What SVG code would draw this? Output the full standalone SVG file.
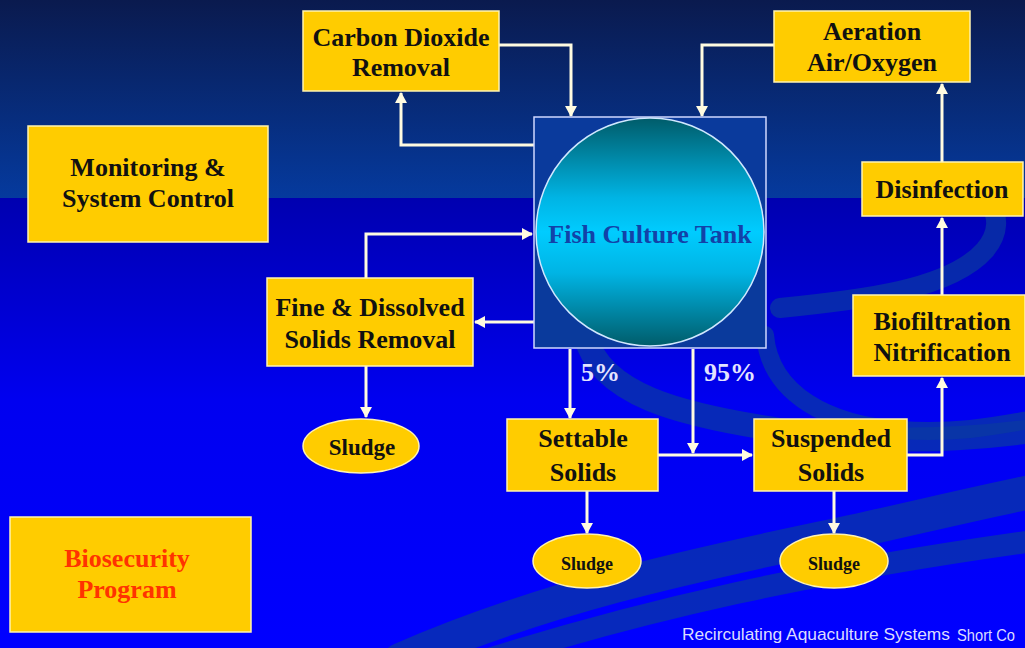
<svg xmlns="http://www.w3.org/2000/svg" width="1025" height="648" viewBox="0 0 1025 648">
<defs>
<linearGradient id="bgTop" x1="0" y1="0" x2="0" y2="1">
<stop offset="0" stop-color="#0a1a4e"/>
<stop offset="1" stop-color="#053a9e"/>
</linearGradient>
<linearGradient id="bgBot" x1="0" y1="0" x2="0" y2="1">
<stop offset="0" stop-color="#0000b0"/>
<stop offset="0.45" stop-color="#0000f0"/>
<stop offset="1" stop-color="#0000ff"/>
</linearGradient>
<linearGradient id="tankGrad" x1="0" y1="0" x2="0" y2="1">
<stop offset="0" stop-color="#005c6a"/>
<stop offset="0.35" stop-color="#00b4e4"/>
<stop offset="0.5" stop-color="#00ccff"/>
<stop offset="0.68" stop-color="#00b4e4"/>
<stop offset="1" stop-color="#005c6a"/>
</linearGradient>
<marker id="arr" markerUnits="userSpaceOnUse" markerWidth="12" markerHeight="12" refX="10" refY="6" orient="auto">
<path d="M0,0 L11,6 L0,12 z" fill="#fffbe0"/>
</marker>
<style>
.box{fill:#ffcc00;stroke:#fff3b0;stroke-width:1.5}
.lbl{font-family:"Liberation Serif","Times New Roman",serif;font-weight:bold;font-size:26px;fill:#111;text-anchor:middle}
.sm{font-size:18px}
.wave{fill:none;stroke:#0a3aa0;stroke-opacity:0.7;stroke-linecap:round}
.conn{fill:none;stroke:#fffbe0;stroke-width:3;marker-end:url(#arr)}
.pct{font-family:"Liberation Serif","Times New Roman",serif;font-weight:bold;font-size:26px;fill:#e4e4ff}
.foot{font-family:"Liberation Sans",Arial,sans-serif;font-size:17px;fill:#dcdcff}
</style>
</defs>
<g id="background">
<rect x="0" y="0" width="1025" height="198" fill="url(#bgTop)"/>
<rect x="0" y="198" width="1025" height="450" fill="url(#bgBot)"/>
<path class="wave" stroke-width="34" d="M400 660 C560 590 720 560 860 530 C940 512 990 500 1040 490"/>
<path class="wave" stroke-width="22" d="M470 665 C640 610 820 570 1040 540"/>
<path class="wave" stroke-width="24" d="M585 335 C600 395 680 415 780 430 C880 445 970 440 1040 430"/>
<path class="wave" stroke-width="20" d="M780 308 C860 300 950 290 985 250 C1000 232 998 215 990 205"/>
<path class="wave" stroke-width="18" d="M765 335 C770 395 830 425 900 430 C960 434 1000 425 1040 418"/>
</g>
<g id="connectors">
<path class="conn" d="M534 145 H401 V93"/>
<path class="conn" d="M499 45 H571 V116"/>
<path class="conn" d="M774 45 H702 V116"/>
<path class="conn" d="M534 322 H475"/>
<path class="conn" d="M366 278 V234 H532"/>
<path class="conn" d="M366 366 V417"/>
<path class="conn" d="M570 349 V418"/>
<path class="conn" d="M693 349 V453"/>
<path class="conn" d="M658 455 H752"/>
<path class="conn" d="M907 455 H942 V378"/>
<path class="conn" d="M942 295 V218"/>
<path class="conn" d="M942 162 V84"/>
<path class="conn" d="M587 491 V533"/>
<path class="conn" d="M834 491 V533"/>
</g>
<g id="tank">
<rect x="534" y="117" width="232" height="231" fill="#0a3a9c" stroke="#d0d8ff" stroke-width="1.5"/>
<circle cx="650" cy="232" r="114" fill="url(#tankGrad)" stroke="#d0e8ff" stroke-width="1.5"/>
<text x="650" y="243" class="lbl" style="fill:#1242a8">Fish Culture Tank</text>
</g>
<g id="co2">
<rect class="box" x="303" y="11" width="196" height="80"/>
<text class="lbl" x="401" y="46">Carbon Dioxide</text>
<text class="lbl" x="401" y="76">Removal</text>
</g>
<g id="aeration">
<rect class="box" x="774" y="11" width="196" height="71"/>
<text class="lbl" x="872" y="40">Aeration</text>
<text class="lbl" x="872" y="71">Air/Oxygen</text>
</g>
<g id="monitoring">
<rect class="box" x="28" y="126" width="240" height="116"/>
<text class="lbl" x="148" y="176">Monitoring &amp;</text>
<text class="lbl" x="148" y="207">System Control</text>
</g>
<g id="disinfection">
<rect class="box" x="862" y="162" width="161" height="54"/>
<text class="lbl" x="942" y="198">Disinfection</text>
</g>
<g id="biofiltration">
<rect class="box" x="853" y="295" width="172" height="81"/>
<text class="lbl" x="942" y="330">Biofiltration</text>
<text class="lbl" x="942" y="361">Nitrification</text>
</g>
<g id="fine">
<rect class="box" x="267" y="278" width="206" height="88"/>
<text class="lbl" x="370" y="316">Fine &amp; Dissolved</text>
<text class="lbl" x="370" y="348">Solids Removal</text>
</g>
<g id="sludge1">
<ellipse class="box" cx="361" cy="446" rx="58" ry="27"/>
<text class="lbl" x="362" y="455" style="font-size:23px">Sludge</text>
</g>
<g id="settable">
<rect class="box" x="507" y="419" width="151" height="72"/>
<text class="lbl" x="583" y="447">Settable</text>
<text class="lbl" x="583" y="481">Solids</text>
</g>
<g id="suspended">
<rect class="box" x="754" y="419" width="153" height="72"/>
<text class="lbl" x="831" y="447">Suspended</text>
<text class="lbl" x="831" y="481">Solids</text>
</g>
<g id="sludge2">
<ellipse class="box" cx="587" cy="561" rx="54" ry="27"/>
<text class="lbl sm" x="587" y="570">Sludge</text>
</g>
<g id="sludge3">
<ellipse class="box" cx="834" cy="561" rx="54" ry="27"/>
<text class="lbl sm" x="834" y="570">Sludge</text>
</g>
<g id="biosecurity">
<rect class="box" x="10" y="517" width="241" height="115"/>
<text class="lbl" x="127" y="567" style="fill:#ff3300">Biosecurity</text>
<text class="lbl" x="127" y="598" style="fill:#ff3300">Program</text>
</g>
<g id="labels">
<text class="pct" x="581" y="381">5%</text>
<text class="pct" x="704" y="381">95%</text>
<text class="foot" x="682" y="640" textLength="268" lengthAdjust="spacingAndGlyphs">Recirculating Aquaculture Systems</text>
<text class="foot" x="957" y="641" textLength="58" lengthAdjust="spacingAndGlyphs">Short Co</text>
</g>
</svg>
